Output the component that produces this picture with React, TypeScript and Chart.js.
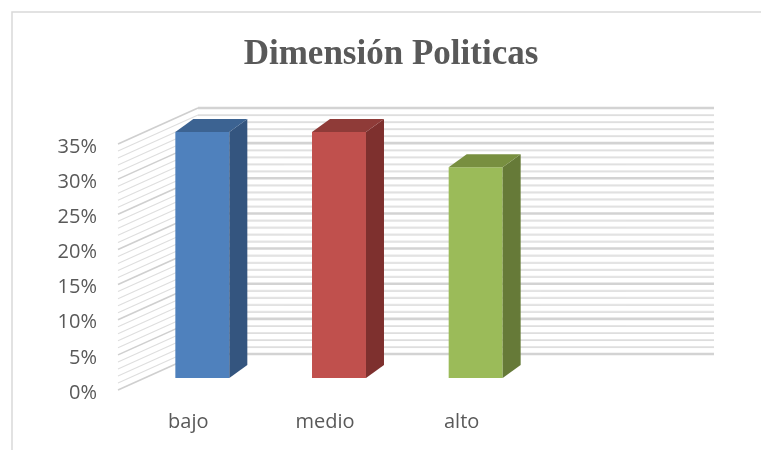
import React, { useEffect, useRef } from "react";
import { Chart, registerables } from "chart.js";

Chart.register(...registerables);

const categories = ["bajo", "medio", "alto"];
const values = [0.35, 0.35, 0.3];
const frontColors = ["#4f81bd", "#c0504d", "#9bbb59"];
const sideColors = ["#34557f", "#7e302e", "#667a38"];
const topColors = ["#3c6392", "#8f3b38", "#788f40"];
const yTickMax = 0.35;
const yTickStep = 0.05;
const minorStep = 0.01;
const titleText = "Dimensión Politicas";

const FRONT_DY = 12;
const LABEL_DY = 15;
const BACK_DY = -24;
const LEFT_FRONT_DX = -16;
const LEFT_BACK_DX = 64;
const BACK_RIGHT_DX = 170;
const BAR_DEPTH_X = 18;
const BAR_DEPTH_Y = -13;
const TITLE_X = 391;
const TITLE_BASELINE = 64;

const wallPlugin = {
  id: "wall3d",
  beforeDraw(chart: any) {
    const ctx = chart.ctx;
    ctx.save();
    ctx.fillStyle = "#ffffff";
    ctx.fillRect(0, 0, chart.width, chart.height);
    ctx.strokeStyle = "#d9d9d9";
    ctx.lineWidth = 1.5;
    ctx.strokeRect(12, 12, chart.width + 20, chart.height + 20);
    ctx.fillStyle = "#595959";
    ctx.font = "bold 35px 'Liberation Serif'";
    ctx.textAlign = "center";
    ctx.textBaseline = "alphabetic";
    ctx.fillText(titleText, TITLE_X, TITLE_BASELINE);
    ctx.restore();
  },
  beforeDatasetsDraw(chart: any) {
    const ctx = chart.ctx;
    const y = chart.scales.y;
    const area = chart.chartArea;
    const lf = area.left + LEFT_FRONT_DX;
    const lb = area.left + LEFT_BACK_DX;
    const rb = area.right + BACK_RIGHT_DX;
    ctx.save();
    const n = Math.round(yTickMax / minorStep);
    for (let i = 0; i <= n; i++) {
      const v = i * minorStep;
      const py = y.getPixelForValue(v);
      const major = i % Math.round(yTickStep / minorStep) === 0;
      ctx.strokeStyle = major ? "#d3d3d3" : "#e6e6e6";
      ctx.lineWidth = major ? 2.6 : 2;
      ctx.beginPath();
      ctx.moveTo(lb, py + BACK_DY);
      ctx.lineTo(rb, py + BACK_DY);
      ctx.stroke();
      if (!major) {
        ctx.strokeStyle = "#d8d8d8";
        ctx.lineWidth = 0.6;
        ctx.beginPath();
        ctx.moveTo(lb, py + BACK_DY + 0.6);
        ctx.lineTo(rb, py + BACK_DY + 0.6);
        ctx.stroke();
      }
      ctx.strokeStyle = major ? "#cfcfcf" : "#dedede";
      ctx.lineWidth = major ? 1.6 : 1.1;
      ctx.beginPath();
      ctx.moveTo(lf, py + FRONT_DY);
      ctx.lineTo(lb, py + BACK_DY);
      ctx.stroke();
    }
    ctx.restore();
  },
  afterDatasetsDraw(chart: any) {
    const ctx = chart.ctx;
    const meta = chart.getDatasetMeta(0);
    ctx.save();
    meta.data.forEach((bar: any, i: number) => {
      const { x, y, base, width } = bar.getProps(["x", "y", "base", "width"], true);
      const l = x - width / 2;
      const r = x + width / 2;
      ctx.fillStyle = sideColors[i];
      ctx.beginPath();
      ctx.moveTo(r, y);
      ctx.lineTo(r + BAR_DEPTH_X, y + BAR_DEPTH_Y);
      ctx.lineTo(r + BAR_DEPTH_X, base + BAR_DEPTH_Y);
      ctx.lineTo(r, base);
      ctx.closePath();
      ctx.fill();
      ctx.fillStyle = topColors[i];
      ctx.beginPath();
      ctx.moveTo(l, y);
      ctx.lineTo(l + BAR_DEPTH_X, y + BAR_DEPTH_Y);
      ctx.lineTo(r + BAR_DEPTH_X, y + BAR_DEPTH_Y);
      ctx.lineTo(r, y);
      ctx.closePath();
      ctx.fill();
    });
    ctx.restore();
  },
};

export default function App() {
  const ref = useRef<HTMLCanvasElement>(null);
  useEffect(() => {
    if (!ref.current) return;
    const chart = new Chart(ref.current, {
      type: "bar",
      data: {
        labels: categories,
        datasets: [
          {
            data: values,
            backgroundColor: frontColors,
            borderWidth: 0,
            barPercentage: 0.395,
            categoryPercentage: 1,
          },
        ],
      },
      options: {
        responsive: false,
        animation: false,
        devicePixelRatio: 1,
        layout: { padding: { left: 0, right: 217, top: 132, bottom: 0 } },
        plugins: {
          legend: { display: false },
          tooltip: { enabled: false },
          title: { display: false },
        },
        scales: {
          x: {
            grid: { display: false, drawTicks: false },
            border: { display: false },
            ticks: {
              color: "#595959",
              font: { family: "Open Sans", size: 20 },
              padding: 32,
              labelOffset: -14,
              maxRotation: 0,
            },
            afterFit(scale: any) {
              scale.height = 72;
            },
          },
          y: {
            min: 0,
            max: yTickMax,
            grid: { display: false, drawTicks: false },
            border: { display: false },
            ticks: {
              stepSize: yTickStep,
              color: "#595959",
              font: { family: "Open Sans", size: 20 },
              padding: 37,
              labelOffset: LABEL_DY,
              callback: (v: any) => Math.round(Number(v) * 100) + "%",
            },
            afterFit(scale: any) {
              scale.width = 134;
            },
          },
        },
      },
      plugins: [wallPlugin],
    });
    return () => chart.destroy();
  }, []);
  return (
    <div style={{ position: "fixed", left: 0, top: 0, width: 761, height: 450, background: "#fff" }}>
      <canvas ref={ref} width={761} height={450} style={{ display: "block" }} />
    </div>
  );
}
